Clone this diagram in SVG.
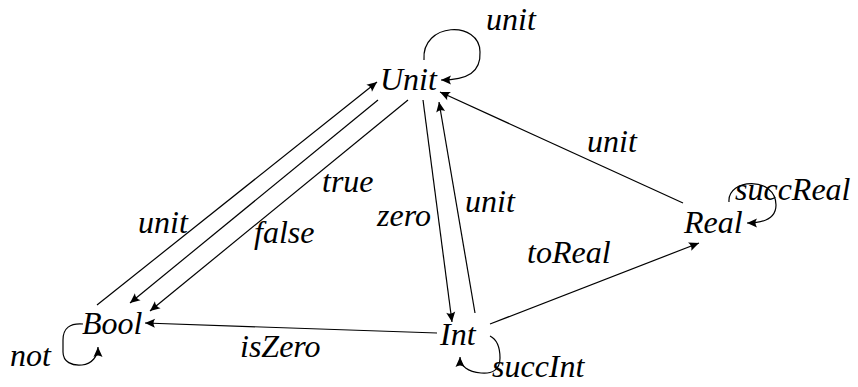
<svg xmlns="http://www.w3.org/2000/svg" width="858" height="387" viewBox="0 0 858 387">
<defs>
<path id="a" d="M0,0 L-10,-4.5 Q-7,0 -10,4.5 Z" fill="#000"/>
<style>
svg text, g text, text{font-family:'Liberation Serif','Times New Roman',serif !important;font-style:italic !important;font-weight:normal !important;font-size:32px !important;fill:#000}
.e{fill:none;stroke:#000;stroke-width:1.2}
</style>
</defs>
<g id="connectors">
<path class="e" d="M97,305 L377,82"/>
<use href="#a" transform="translate(377,82) rotate(-38.5)"/>
<path class="e" d="M378,100 L130,303"/>
<use href="#a" transform="translate(130,303) rotate(140.7)"/>
<path class="e" d="M408,100 L150,311"/>
<use href="#a" transform="translate(150,311) rotate(140.7)"/>
<path class="e" d="M423,100 L452,322"/>
<use href="#a" transform="translate(452,322) rotate(82.6)"/>
<path class="e" d="M475,313 L439,102"/>
<use href="#a" transform="translate(439,102) rotate(-99.7)"/>
<path class="e" d="M683,203 L440,92"/>
<use href="#a" transform="translate(440,92) rotate(204.5)"/>
<path class="e" d="M490,324 L699,243"/>
<use href="#a" transform="translate(699,243) rotate(-21.2)"/>
<path class="e" d="M437,333 L145,323"/>
<use href="#a" transform="translate(145,323) rotate(182)"/>
<path class="e" d="M424,60 C421,22 480,20 480,52 C481,72 468,80 441,80"/>
<use href="#a" transform="translate(441,80) rotate(180)"/>
<path class="e" d="M83,324 C70,323 63,328 63,340 L63,352 C63,362 72,366 82,365 C92,364 98,356 98,347"/>
<use href="#a" transform="translate(98,347) rotate(-90)"/>
<path class="e" d="M490,336 C498,340 500,348 500,358 C500,370 492,374 481,373 C468,372 460,366 460,357"/>
<use href="#a" transform="translate(460,357) rotate(-90)"/>
<path class="e" d="M729,202 C727,178 776,176 776,205 C776,218 765,223 747,223"/>
<use href="#a" transform="translate(747,223) rotate(180)"/>
<text x="486" y="30" style="font-family:'Liberation Serif',serif;font-style:italic">unit</text>
<text x="587" y="152" style="font-family:'Liberation Serif',serif;font-style:italic">unit</text>
<text x="322" y="192" style="font-family:'Liberation Serif',serif;font-style:italic">true</text>
<text x="254" y="243" style="font-family:'Liberation Serif',serif;font-style:italic">false</text>
<text x="377" y="226" style="font-family:'Liberation Serif',serif;font-style:italic">zero</text>
<text x="465" y="212" style="font-family:'Liberation Serif',serif;font-style:italic">unit</text>
<text x="138" y="233" style="font-family:'Liberation Serif',serif;font-style:italic">unit</text>
<text x="527" y="263" style="font-family:'Liberation Serif',serif;font-style:italic">toReal</text>
<text x="240" y="357" style="font-family:'Liberation Serif',serif;font-style:italic">isZero</text>
<text x="10" y="366" style="font-family:'Liberation Serif',serif;font-style:italic">not</text>
<text x="492" y="377" style="font-family:'Liberation Serif',serif;font-style:italic">succInt</text>
<text x="735" y="200" style="font-family:'Liberation Serif',serif;font-style:italic">succReal</text>
</g>
<g id="node-unit"><text x="380" y="90" style="font-family:'Liberation Serif',serif;font-style:italic">Unit</text></g>
<g id="node-bool"><text x="82" y="334" style="font-family:'Liberation Serif',serif;font-style:italic">Bool</text></g>
<g id="node-int"><text x="440" y="345" style="font-family:'Liberation Serif',serif;font-style:italic">Int</text></g>
<g id="node-real"><text x="684" y="233" style="font-family:'Liberation Serif',serif;font-style:italic">Real</text></g>
</svg>
